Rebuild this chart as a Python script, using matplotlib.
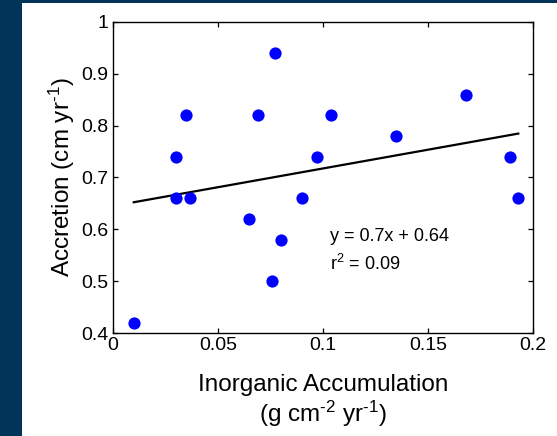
import matplotlib
matplotlib.use('Agg')
import matplotlib.pyplot as plt
from matplotlib.patches import Rectangle
from matplotlib.ticker import FormatStrFormatter

plt.rcParams['font.family'] = ['Liberation Sans', 'DejaVu Sans']
plt.rcParams['mathtext.fontset'] = 'custom'
plt.rcParams['mathtext.rm'] = 'Liberation Sans'
plt.rcParams['mathtext.default'] = 'regular'

# inorganic accumulation (g cm-2 yr-1) vs accretion (cm yr-1)
inorganic = [0.010, 0.030, 0.030, 0.035, 0.037, 0.065, 0.069, 0.077, 0.076,
             0.080, 0.090, 0.097, 0.104, 0.135, 0.168, 0.189, 0.193]
accretion = [0.42, 0.74, 0.66, 0.82, 0.66, 0.62, 0.82, 0.94, 0.50,
             0.58, 0.66, 0.74, 0.82, 0.78, 0.86, 0.74, 0.66]

fit_slope = 0.724
fit_intercept = 0.645
fit_x = [min(inorganic), max(inorganic)]

x_ticks = [0, 0.05, 0.1, 0.15, 0.2]
y_ticks = [0.4, 0.5, 0.6, 0.7, 0.8, 0.9, 1.0]

navy = '#013459'

fig = plt.figure(figsize=(5.57, 4.36), dpi=100)
fig.patch.set_facecolor(navy)
fig.add_artist(Rectangle((22 / 557, 0), 535 / 557, 433 / 436,
                         transform=fig.transFigure, facecolor='white',
                         edgecolor='none', zorder=0))

ax = fig.add_axes([112.7 / 557, 1 - 333 / 436, 420.3 / 557, 311 / 436])
ax.plot(inorganic, accretion, 'o', color='#0000ff', markersize=8.8,
        markeredgewidth=0, zorder=3)
ax.plot(fit_x, [fit_slope * v + fit_intercept for v in fit_x],
        color='black', linewidth=1.6, zorder=2)

ax.text(0.1032, 0.578, 'y = 0.7x + 0.64', fontsize=13, va='baseline')
ax.text(0.1032, 0.521, 'r$^2$ = 0.09', fontsize=13, va='baseline')

ax.set_xlim(0, 0.2)
ax.set_ylim(0.4, 1.0)
ax.set_xticks(x_ticks)
ax.set_yticks(y_ticks)
ax.xaxis.set_major_formatter(FormatStrFormatter('%g'))
ax.yaxis.set_major_formatter(FormatStrFormatter('%g'))
ax.tick_params(direction='in', top=True, right=True, length=3.5,
               width=0.9, labelsize=14, pad=3)
for s in ax.spines.values():
    s.set_linewidth(1.0)

ax.set_xlabel('Inorganic Accumulation\n(g cm$^{\\text{-2}}$ yr$^{\\text{-1}}$)',
              fontsize=17.5, linespacing=1.12, labelpad=14)
ax.set_ylabel('Accretion (cm yr$^{\\text{-1}}$)', fontsize=17.5, labelpad=3)

fig.savefig('out.png', dpi=100, facecolor=fig.get_facecolor())
